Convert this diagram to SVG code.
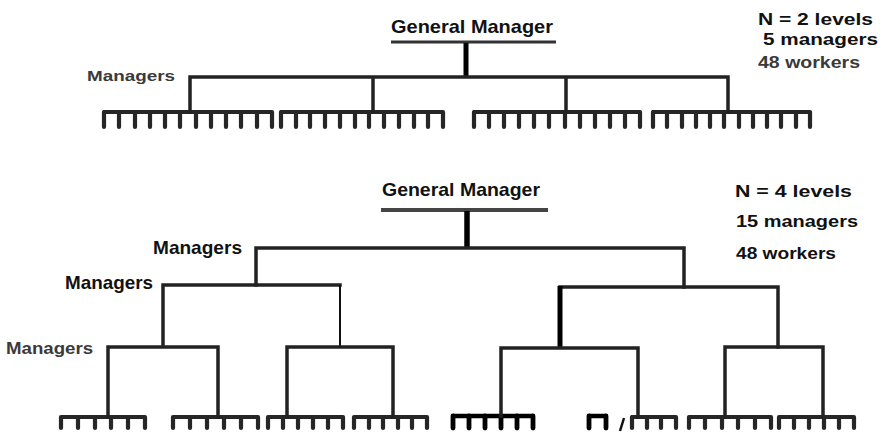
<svg xmlns="http://www.w3.org/2000/svg" width="886" height="434" viewBox="0 0 886 434">
<style>
text{font-family:"Liberation Sans",Arial,sans-serif;font-weight:bold;fill:#111}
.gray{fill:#3a3a3a}
.ln{fill:none;stroke:#222;stroke-width:3.5;stroke-linecap:square}
.thin{fill:none;stroke:#111;stroke-width:2}
.comb{fill:none;stroke:#262626;stroke-width:4}
.teeth{fill:none;stroke:#262626;stroke-width:4.2;stroke-linecap:round}
.bcomb{fill:none;stroke:#000;stroke-width:4.5}
.bteeth{fill:none;stroke:#000;stroke-width:4.8;stroke-linecap:round}
</style>
<rect width="886" height="434" fill="#fff"/>

<!-- ===== Top chart (N = 2) ===== -->
<g id="top-gm">
  <text x="391" y="33" font-size="18.5" textLength="162" lengthAdjust="spacingAndGlyphs">General Manager</text>
  <line x1="391" y1="42" x2="556" y2="42" stroke="#333" stroke-width="3"/>
</g>
<g id="top-labels">
  <text x="87" y="81" font-size="15.5" class="gray" textLength="88" lengthAdjust="spacingAndGlyphs">Managers</text>
  <text x="758" y="25" font-size="17" textLength="115" lengthAdjust="spacingAndGlyphs">N = 2 levels</text>
  <text x="763" y="45" font-size="17" textLength="115" lengthAdjust="spacingAndGlyphs">5 managers</text>
  <text x="758" y="68" font-size="16.5" class="gray" textLength="102" lengthAdjust="spacingAndGlyphs">48 workers</text>
</g>
<g id="top-workers">
  <path class="comb" d="M103 112H272M280 112H443M473 112H640M652 112H810"/>
  <path class="teeth" d="M104 112V127M119 112V127M135 112V127M150 112V127M165 112V127M180 112V127M196 112V127M211 112V127M226 112V127M241 112V127M257 112V127M272 112V127"/>
  <path class="teeth" d="M281 112V127M296 112V127M310 112V127M325 112V127M340 112V127M355 112V127M369 112V127M384 112V127M399 112V127M414 112V127M428 112V127M443 112V127"/>
  <path class="teeth" d="M474 112V127M489 112V127M504 112V127M519 112V127M534 112V127M549 112V127M565 112V127M580 112V127M595 112V127M610 112V127M625 112V127M640 112V127"/>
  <path class="teeth" d="M653 112V127M667 112V127M682 112V127M696 112V127M710 112V127M724 112V127M739 112V127M753 112V127M767 112V127M781 112V127M796 112V127M810 112V127"/>
</g>
<g id="top-connectors">
  <line x1="466" y1="43" x2="466" y2="77" stroke="#000" stroke-width="5"/>
  <path class="ln" d="M190 112V77H728V112M373 77V112M566 77V112"/>
</g>

<!-- ===== Bottom chart (N = 4) ===== -->
<g id="bottom-gm">
  <text x="382" y="196" font-size="18.5" textLength="158" lengthAdjust="spacingAndGlyphs">General Manager</text>
  <line x1="381" y1="210" x2="548" y2="210" stroke="#444" stroke-width="4"/>
</g>
<g id="bottom-labels">
  <text x="153" y="254" font-size="18.5" textLength="89" lengthAdjust="spacingAndGlyphs" fill="#000">Managers</text>
  <text x="65" y="289" font-size="18.5" textLength="88" lengthAdjust="spacingAndGlyphs">Managers</text>
  <text x="6" y="354" font-size="16.5" class="gray" textLength="87" lengthAdjust="spacingAndGlyphs">Managers</text>
  <text x="735" y="197" font-size="17" textLength="117" lengthAdjust="spacingAndGlyphs">N = 4 levels</text>
  <text x="736" y="227" font-size="17" textLength="122" lengthAdjust="spacingAndGlyphs">15 managers</text>
  <text x="736" y="259" font-size="17" textLength="100" lengthAdjust="spacingAndGlyphs">48 workers</text>
</g>
<g id="bottom-workers">
  <path class="comb" d="M61 417H145M173 417H258M268 417H343M354 417H427M631 417H676M689 417H771M779 417H854"/>
  <path class="teeth" d="M61 417V428M78 417V428M95 417V428M111 417V428M128 417V428M145 417V428"/>
  <path class="teeth" d="M173 417V428M190 417V428M207 417V428M224 417V428M241 417V428M258 417V428"/>
  <path class="teeth" d="M268 417V428M283 417V428M298 417V428M313 417V428M328 417V428M343 417V428"/>
  <path class="teeth" d="M354 417V428M369 417V428M383 417V428M398 417V428M412 417V428M427 417V428"/>
  <path class="bcomb" d="M453 416H533"/>
  <path class="bteeth" d="M453 416V428M469 416V428M485 416V428M501 416V428M517 416V428M533 416V428"/>
  <path class="bcomb" d="M589 416H606"/>
  <path class="bteeth" d="M589 416V428M606 416V428"/>
  <line x1="624" y1="418" x2="620" y2="431" stroke="#111" stroke-width="2.5"/>
  <path class="teeth" d="M632 417V428M647 417V428M661 417V428M676 417V428"/>
  <path class="teeth" d="M689 417V428M705 417V428M722 417V428M738 417V428M755 417V428M771 417V428"/>
  <path class="teeth" d="M779 417V428M794 417V428M809 417V428M824 417V428M839 417V428M854 417V428"/>
</g>
<g id="bottom-connectors">
  <line x1="467" y1="211" x2="467" y2="248" stroke="#000" stroke-width="5.5"/>
  <path class="ln" d="M256 285V248H684V287"/>
  <path class="ln" d="M163 346V285H340"/>
  <line x1="340" y1="285" x2="340" y2="346" class="thin"/>
  <path class="ln" d="M560 287H778V347"/>
  <line x1="560" y1="286" x2="560" y2="347" stroke="#000" stroke-width="5"/>
  <path class="ln" d="M108 417V347H218V417"/>
  <path class="ln" d="M287 417V347H393V417"/>
  <path class="ln" d="M501 416V348H638V417"/>
  <path class="ln" d="M725 417V347H823V417"/>
</g>
</svg>
